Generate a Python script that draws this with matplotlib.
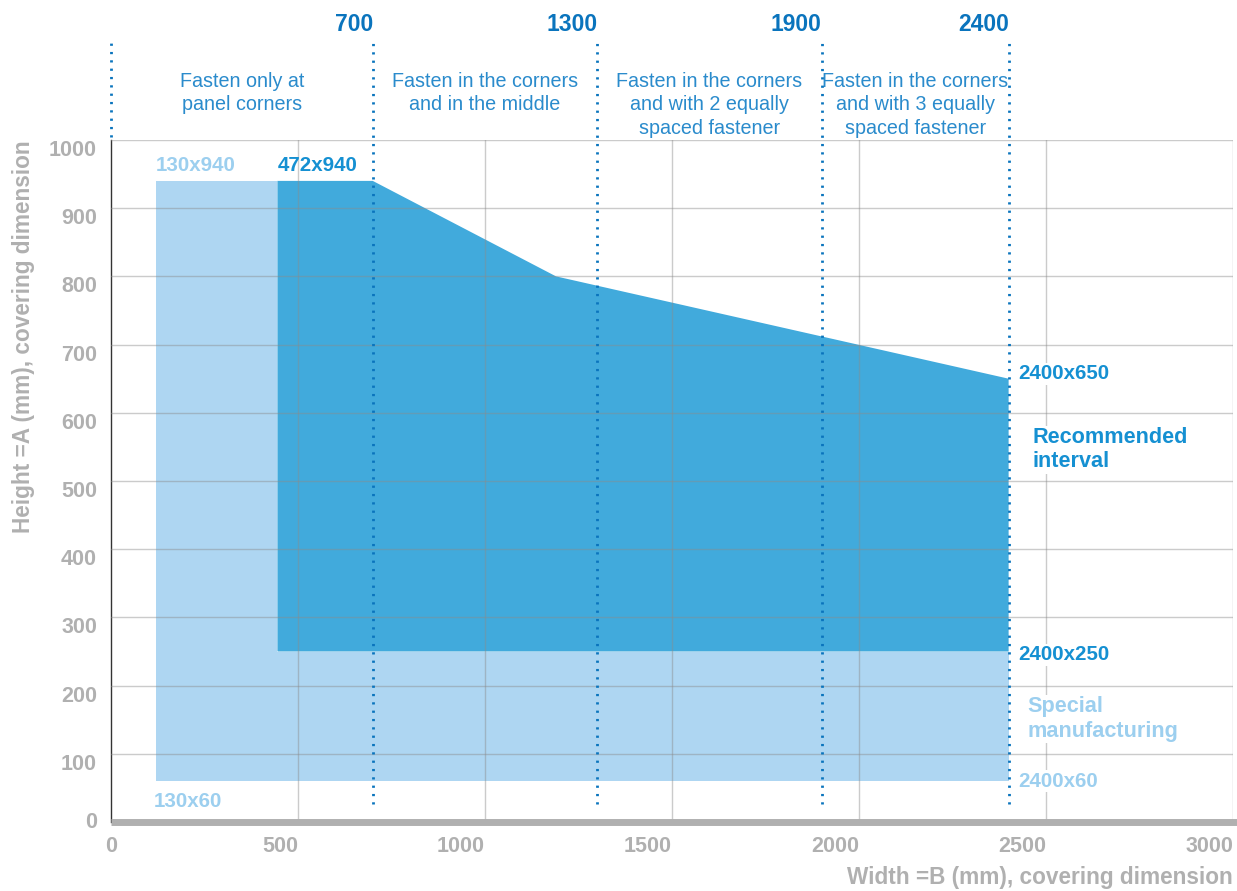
import matplotlib

matplotlib.use("Agg")
import matplotlib.pyplot as plt

plt.rcParams["font.family"] = ["Liberation Sans", "DejaVu Sans"]

# Dimension areas (mm): width B on x, height A on y
special_x = [120, 2400, 2400, 445, 445, 120]
special_y = [60, 60, 250, 250, 940, 940]
recommended_x = [445, 700, 1190, 2400, 2400, 445]
recommended_y = [940, 940, 800, 650, 250, 250]

# Fastening zones
zone_limits = [0, 700, 1300, 1900, 2400]
zone_labels = [
    "Fasten only at\npanel corners",
    "Fasten in the corners\nand in the middle",
    "Fasten in the corners\nand with 2 equally\nspaced fastener",
    "Fasten in the corners\nand with 3 equally\nspaced fastener",
]

x_ticks = [0, 500, 1000, 1500, 2000, 2500, 3000]
y_ticks = [0, 100, 200, 300, 400, 500, 600, 700, 800, 900, 1000]

LIGHT = "#aed6f2"
DARK = "#41aadc"
LIGHT_TXT = "#9ccfef"
DARK_TXT = "#1590d2"
LINE_BLUE = "#0a74bd"
ZONE_TXT = "#2a8bcc"
GREY = "#b0b0b0"

fig = plt.figure(figsize=(12.37, 8.91), dpi=100)
ax = fig.add_axes([0.0897, 0.0774, 0.9071, 0.7655])
ax.set_xlim(0, 3000)
ax.set_ylim(0, 1000)

ax.fill(special_x, special_y, color=LIGHT, lw=0, zorder=1)
ax.fill(recommended_x, recommended_y, color=DARK, lw=0, zorder=2)

# grid on top of the areas, semi-transparent
for x in x_ticks[1:]:
    ax.axvline(x, color="#8c8c8c", alpha=0.45, lw=1, zorder=3)
for y in y_ticks[1:]:
    ax.axhline(y, color="#8c8c8c", alpha=0.45, lw=1, zorder=3)

# thick base line
ax.plot([0, 3020], [0, 0], color=GREY, lw=5, solid_capstyle="butt",
        clip_on=False, zorder=4)

for s in ["top", "right", "bottom"]:
    ax.spines[s].set_visible(False)
ax.spines["left"].set_color("#333333")
ax.spines["left"].set_linewidth(1)

ax.set_xticks(x_ticks)
ax.set_yticks(y_ticks)
ax.tick_params(length=0, labelsize=15.5, labelcolor=GREY)
ax.tick_params(axis="x", pad=10)
ax.tick_params(axis="y", pad=10)
for lbl in ax.get_xticklabels():
    lbl.set_fontweight("bold")
    lbl.set_ha("right")
ax.get_xticklabels()[0].set_ha("center")
for lbl in ax.get_yticklabels():
    lbl.set_fontweight("bold")
    lbl.set_va("top")
ax.get_yticklabels()[0].set_va("center")

# fastening zone dividers
for x in zone_limits:
    y0 = 1004 if x == 0 else 26
    ax.plot([x, x], [y0, 1150], color=LINE_BLUE, lw=2,
            ls=(0, (0.8, 2.2)), clip_on=False, zorder=5)
    if x > 0:
        ax.text(x, 1169, str(x), ha="right", va="center", fontsize=16.5,
                fontweight="bold", color=LINE_BLUE, clip_on=False)
for lo, hi, label in zip(zone_limits[:-1], zone_limits[1:], zone_labels):
    ax.text((lo + hi) / 2, 1100, label, ha="center", va="top", fontsize=14.2,
            color=ZONE_TXT, linespacing=1.3, clip_on=False)

# corner labels
ax.text(special_x[0], 948, "130x940", ha="left", va="bottom", fontsize=14.8,
        fontweight="bold", color=LIGHT_TXT, zorder=6)
ax.text(recommended_x[0], 948, "472x940", ha="left", va="bottom",
        fontsize=14.8, fontweight="bold", color=DARK_TXT, zorder=6)
ax.text(special_x[0] - 5, 30, "130x60", ha="left", va="center", fontsize=14.8,
        fontweight="bold", color=LIGHT_TXT, zorder=6)

box = dict(facecolor="white", edgecolor="none", pad=1)
ax.text(2425, 657, "2400x650", ha="left", va="center", fontsize=14.8,
        fontweight="bold", color=DARK_TXT, bbox=box, zorder=6)
ax.text(2425, 245, "2400x250", ha="left", va="center", fontsize=14.8,
        fontweight="bold", color=DARK_TXT, bbox=box, zorder=6)
ax.text(2425, 60, "2400x60", ha="left", va="center", fontsize=14.8,
        fontweight="bold", color=LIGHT_TXT, bbox=box, zorder=6)
ax.text(2465, 546, "Recommended\ninterval", ha="left", va="center",
        fontsize=15.6, fontweight="bold", color=DARK_TXT, linespacing=1.2,
        bbox=box, zorder=6)
ax.text(2450, 151, "Special\nmanufacturing", ha="left", va="center",
        fontsize=15.6, fontweight="bold", color=LIGHT_TXT, linespacing=1.2,
        bbox=box, zorder=6)

# axis titles
fig.text(0.9968, 0.015, "Width =B (mm), covering dimension", ha="right",
         va="center", fontsize=16.3, fontweight="bold", color=GREY)
fig.text(0.019, 0.843, "Height =A (mm), covering dimension", rotation=90,
         ha="center", va="top", fontsize=16.3, fontweight="bold", color=GREY)

fig.savefig("out.png", dpi=100)
